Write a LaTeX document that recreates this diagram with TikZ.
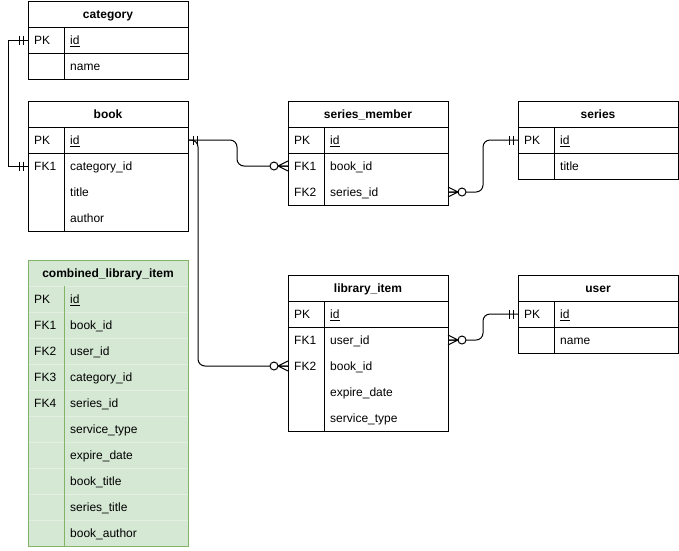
\documentclass[tikz,border=0pt]{standalone}
\usepackage{fontspec}
\setmainfont{Liberation Sans}
\usetikzlibrary{calc}
\definecolor{greenfill}{HTML}{D5E8D4}
\definecolor{greenline}{HTML}{82B366}
\definecolor{greensep}{HTML}{E4EFE3}

\tikzset{
  every node/.style={font=\fontsize{12}{14}\selectfont, inner sep=0pt},
  tablebox/.style={draw=black, line width=1pt, fill=white, anchor=north west,
    minimum width=160pt, inner sep=0pt, outer sep=0pt},
  hdrtext/.style={anchor=base, font=\fontsize{12}{14}\selectfont\bfseries},
  celltext/.style={anchor=base west},
  hdrline/.style={draw=black, line width=1pt},
  keyline/.style={draw=black, line width=1pt},
  rowline/.style={draw=none},
  noline/.style={draw=none},
  divline/.style={draw=black, line width=1pt},
  greentable/.style={
    tablebox/.append style={fill=greenfill, draw=greenline},
    hdrline/.style={draw=greensep, line width=1pt},
    keyline/.style={draw=greensep, line width=1pt},
    rowline/.style={draw=greensep, line width=1pt},
    divline/.style={draw=greenline, line width=1pt}},
  conn/.style={draw=black, line width=1pt, rounded corners=7pt},
  markline/.style={draw=black, line width=1pt},
}

% entity table: [options]{name}{left}{top}{title}{rows}{key/field/separator,...}
\newcommand\ertable[7][]{%
  \begin{scope}[#1]
    \node[tablebox, minimum height={26+26*#6}] (#2) at (#3,#4) {};
    \node[hdrtext] (#2-title) at ({#3+80},{#4+17.5}) {#5};
    \path[hdrline] (#3,{#4+26}) -- ++(160,0);
    \foreach \ky/\fl/\rowsep [count=\i] in {#7}{
      \pgfmathsetmacro\yc{#4+26+26*\i-13}
      \coordinate (#2-r\i-w) at (#3,\yc);
      \coordinate (#2-r\i-e) at ({#3+160},\yc);
      \node[celltext] (#2-k\i) at ({#3+6},{\yc+4.5}) {\ky};
      \node[celltext] (#2-f\i) at ({#3+42},{\yc+4.5}) {\fl};
      \path[style/.expanded=\rowsep] (#3,{\yc+13}) -- ++(160,0);
    }
    \path[divline] ({#3+36},{#4+26}) -- ({#3+36},{#4+26+26*#6});
    \node[tablebox, fill=none, minimum height={26+26*#6}] (#2-frame) at (#3,#4) {};
  \end{scope}}

% crow's foot ends: #1 coordinate on the table edge, #2 direction (1 right, -1 left)
\newcommand\mandone[2]{%
  \begin{scope}[shift={(#1)}, xscale=#2]
    \draw[markline] (5,-4.5) -- (5,4.5) (9,-4.5) -- (9,4.5);
  \end{scope}}
\newcommand\zeromany[2]{%
  \begin{scope}[shift={(#1)}, xscale=#2]
    \draw[markline] (0,-5) -- (10,0) -- (0,5) (0,0) -- (10,0);
    \draw[markline, fill=white] (14,0) circle[radius=4];
  \end{scope}}

\begin{document}
\begin{tikzpicture}[x=1pt, y=-1pt]
  \useasboundingbox (0,0) rectangle (679,550);

  \ertable{category}{28}{1}{category}{2}{PK/\underline{id}/keyline, /name/noline}
  \ertable{book}{28}{101}{book}{4}{PK/\underline{id}/keyline, FK1/category\_id/noline,
    /title/noline, /author/noline}
  \ertable{member}{288}{101}{series\_member}{3}{PK/\underline{id}/keyline,
    FK1/book\_id/noline, FK2/series\_id/noline}
  \ertable{series}{518}{101}{series}{2}{PK/\underline{id}/keyline, /title/noline}
  \ertable{item}{288}{275}{library\_item}{5}{PK/\underline{id}/keyline,
    FK1/user\_id/noline, FK2/book\_id/noline, /expire\_date/noline, /service\_type/noline}
  \ertable{user}{518}{275}{user}{2}{PK/\underline{id}/keyline, /name/noline}
  \ertable[greentable]{combined}{28}{260}{combined\_library\_item}{10}{
    PK/\underline{id}/keyline, FK1/book\_id/rowline, FK2/user\_id/rowline,
    FK3/category\_id/rowline, FK4/series\_id/rowline, /service\_type/rowline,
    /expire\_date/rowline, /book\_title/rowline, /series\_title/rowline,
    /book\_author/noline}

  % relationships
  \path[conn, sharp corners] (category-r1-w) -- ++(-20,0) |- (book-r2-w);
  \path[conn] (book-r1-e) -- ++(49,0) |- (member-r2-w);
  \path[conn] (book-r1-e) -- ++(10,0) |- (item-r3-w);
  \path[conn] (member-r3-e) -- ++(35,0) |- (series-r1-w);
  \path[conn] (item-r2-e) -- ++(35,0) |- (user-r1-w);

  % relationship ends
  \mandone{category-r1-w}{-1}
  \mandone{book-r2-w}{-1}
  \mandone{book-r1-e}{1}
  \zeromany{member-r2-w}{-1}
  \zeromany{item-r3-w}{-1}
  \zeromany{member-r3-e}{1}
  \mandone{series-r1-w}{-1}
  \zeromany{item-r2-e}{1}
  \mandone{user-r1-w}{-1}
\end{tikzpicture}
\end{document}
